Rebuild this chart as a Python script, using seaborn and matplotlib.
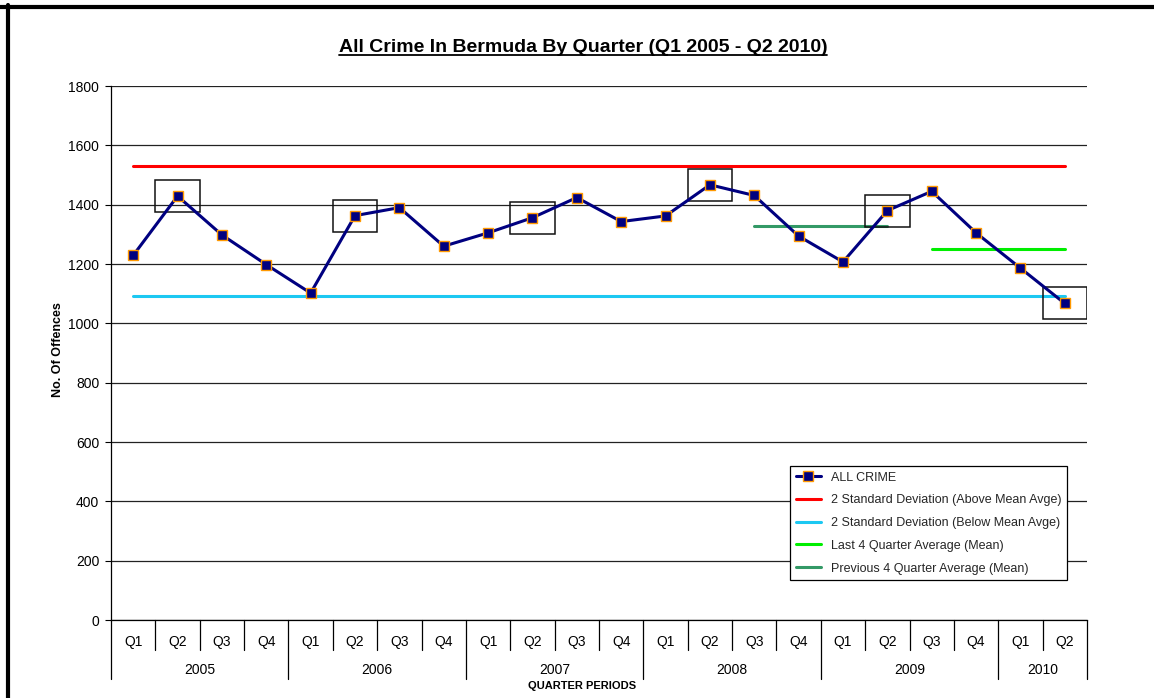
import numpy as np
import pandas as pd
import matplotlib
matplotlib.use("Agg")
import matplotlib.pyplot as plt
import seaborn as sns
from matplotlib.patches import Rectangle
from matplotlib.lines import Line2D
import matplotlib.transforms as mtransforms

# ---------------- data ----------------
years = ["2005", "2006", "2007", "2008", "2009", "2010"]
quarters_per_year = [4, 4, 4, 4, 4, 2]
quarter_labels = ["Q1", "Q2", "Q3", "Q4"] * 5 + ["Q1", "Q2"]
all_crime = [1229, 1429, 1298, 1198, 1102, 1363, 1390, 1260, 1305, 1356, 1424,
             1343, 1362, 1467, 1431, 1294, 1207, 1380, 1445, 1305, 1186, 1067]
sd_above = 1531
sd_below = 1091
last4_avg = 1251
prev4_avg = 1327
last4_span = [18, 21]   # Q3 2009 - Q2 2010
prev4_span = [14, 17]   # Q3 2008 - Q2 2009
highlighted = [1, 5, 9, 13, 17, 21]   # boxed Q2 points
y_ticks = list(range(0, 1801, 200))

series_labels = ["ALL CRIME",
                 "2 Standard Deviation (Above Mean Avge)",
                 "2 Standard Deviation (Below Mean Avge)",
                 "Last 4 Quarter Average (Mean)",
                 "Previous 4 Quarter Average (Mean)"]

# ---------------- figure ----------------
sns.set_theme(style="white")
plt.rcParams['font.family'] = ['Liberation Sans', 'DejaVu Sans']

W, H = 1154, 698
fig = plt.figure(figsize=(W / 100, H / 100), dpi=100)
fig.patch.set_facecolor("white")
ax = fig.add_axes([111 / W, 1 - 620 / H, 976 / W, 534 / H])
ax.set_facecolor("white")

x = np.arange(len(all_crime))
df = pd.DataFrame({"idx": x, "value": all_crime})
full_span = [x[0], x[-1]]

sns.lineplot(x=full_span, y=[sd_above] * 2, color="#FF0000", lw=2.2, ax=ax,
             label=series_labels[1], zorder=3)
sns.lineplot(x=full_span, y=[sd_below] * 2, color="#1CC8F2", lw=2.2, ax=ax,
             label=series_labels[2], zorder=3)
sns.lineplot(x=last4_span, y=[last4_avg] * 2, color="#00EE00", lw=2.2, ax=ax,
             label=series_labels[3], zorder=3)
sns.lineplot(x=prev4_span, y=[prev4_avg] * 2, color="#339966", lw=2.2, ax=ax,
             label=series_labels[4], zorder=3)
sns.lineplot(data=df, x="idx", y="value", color="#000080", lw=2.2, ax=ax,
             marker="s", markersize=6.5, markerfacecolor="#000080",
             markeredgecolor="#FF9900", markeredgewidth=1.0,
             label=series_labels[0], zorder=5)

# highlight boxes
for i in highlighted:
    ax.add_patch(Rectangle((x[i] - 0.5, all_crime[i] - 54), 1.0, 108,
                           fill=False, ec="#111111", lw=1.1, zorder=4))

# axes styling
ax.set_xlim(-0.5, len(all_crime) - 0.5)
ax.set_ylim(0, 1800)
ax.set_yticks(y_ticks)
ax.set_yticklabels([str(v) for v in y_ticks], fontsize=10)
ax.set_xticks([])
ax.set_xlabel("")
ax.set_ylabel("")
ax.yaxis.grid(True, color="#222222", lw=0.9)
ax.set_axisbelow(True)
ax.tick_params(axis="y", direction="out", length=4, width=0.8, pad=4.5,
               color="black", labelcolor="black", left=True)
for s in ["top", "right"]:
    ax.spines[s].set_visible(False)
for s in ["left", "bottom"]:
    ax.spines[s].set_color("black")
    ax.spines[s].set_linewidth(0.9)

# legend
handles, labels = ax.get_legend_handles_labels()
order = [labels.index(l) for l in series_labels]
leg = ax.legend([handles[k] for k in order], [labels[k] for k in order],
                loc="upper left", bbox_to_anchor=(0.6957, 0.2884),
                borderaxespad=0, frameon=True, fancybox=False,
                edgecolor="black", framealpha=1, fontsize=9,
                handlelength=2.0, handletextpad=0.8, labelspacing=0.86,
                borderpad=0.45)
leg.get_frame().set_linewidth(0.9)
leg.set_zorder(10)

# multi-level x axis
trans = mtransforms.blended_transform_factory(ax.transData, ax.transAxes)
ph = 534.0
for i, lab in enumerate(quarter_labels):
    ax.text(x[i], -22 / ph, lab, ha="center", va="center", fontsize=10,
            transform=trans, color="black")
bounds = np.concatenate([[0], np.cumsum(quarters_per_year)]) - 0.5
for i in range(1, len(all_crime)):
    xb = i - 0.5
    if xb in bounds:
        continue
    ax.add_line(Line2D([xb, xb], [0, -30 / ph], transform=trans, color="black",
                       lw=0.9, clip_on=False))
for xb in bounds:
    ax.add_line(Line2D([xb, xb], [0, -59 / ph], transform=trans, color="black",
                       lw=0.9, clip_on=False))
for k, yr in enumerate(years):
    cx = (bounds[k] + bounds[k + 1]) / 2
    ax.text(cx, -50 / ph, yr, ha="center", va="center", fontsize=10,
            transform=trans, color="black")

fig.text(582 / W, 1 - 686 / H, "QUARTER PERIODS", ha="center", va="center",
         fontsize=8, fontweight="bold", color="black")
fig.text(58 / W, 1 - 350 / H, "No. Of Offences", ha="center", va="center",
         rotation=90, fontsize=9, fontweight="bold", color="black")

# title with underline
title = fig.text(583 / W, 1 - 47 / H,
                 "All Crime In Bermuda By Quarter (Q1 2005 - Q2 2010)",
                 ha="center", va="center", fontsize=14, fontweight="bold",
                 color="black")
fig.canvas.draw()
bb = title.get_window_extent(renderer=fig.canvas.get_renderer())
uy = (bb.y0 + 1) / H
fig.add_artist(Line2D([bb.x0 / W, bb.x1 / W], [uy, uy], transform=fig.transFigure,
                      color="black", lw=1.3))

# page border (top and left)
fig.add_artist(Line2D([0, 1], [1 - 7 / H, 1 - 7 / H], transform=fig.transFigure,
                      color="black", lw=3.0))
fig.add_artist(Line2D([7.5 / W, 7.5 / W], [0, 1 - 5 / H], transform=fig.transFigure,
                      color="black", lw=3.0))

fig.savefig("out.png", dpi=100, facecolor="white")
